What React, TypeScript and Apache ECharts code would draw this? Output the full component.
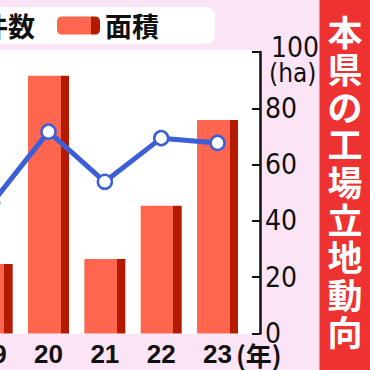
import React, { useEffect, useRef } from "react";
import * as echarts from "echarts";

const categories = ["19", "20", "21", "22", "23"];
const areaValues = [24.7, 91.6, 26.5, 45.4, 75.8];
const countValues = [46.4, 71.7, 53.9, 69.4, 67.7];
const yMin = 0;
const yMax = 100;
const yInterval = 20;
const titleText = "本県の工場立地動向";
const yUnit = "(ha)";
const xUnit = "(年)";

const OFF = 130; // hidden area to the left of the visible page
const W = 370 + OFF;
const H = 370;
const px = (x: number) => x + OFF;

const BG = "#fbe4f5";
const LIGHT = "#ff6650";
const DARK = "#b31a00";
const BLUE = "#3c5fd8";
const NARROW = "'Liberation Sans Narrow', 'DejaVu Sans Condensed', sans-serif";
const CJK = "'Noto Sans CJK JP', sans-serif";

export default function App() {
  const ref = useRef<HTMLDivElement>(null);
  useEffect(() => {
    if (!ref.current) return;
    const chart = echarts.init(ref.current, null, { renderer: "svg" });
    const barColor = new echarts.graphic.LinearGradient(0, 0, 1, 0, [
      { offset: 0, color: LIGHT },
      { offset: 0.8, color: LIGHT },
      { offset: 0.8, color: DARK },
      { offset: 1, color: DARK },
    ]);
    const gridLeft = px(-36);
    const gridRightPage = 245.7;
    const gridRight = W - px(gridRightPage);
    const titleChars = titleText.split("").map((ch, i) => ({
      type: "text",
      z: 6,
      x: px(345),
      y: 30 + i * 37.6,
      style: {
        text: ch,
        fill: "#ffffff",
        font: `bold 35px ${CJK}`,
        align: "center",
        verticalAlign: "middle",
      },
    }));
    chart.setOption({
      animation: false,
      backgroundColor: BG,
      graphic: [
        { type: "rect", z: -10, shape: { x: 0, y: 50, width: px(259), height: 284 }, style: { fill: "#ffffff" } },
        { type: "rect", z: -10, shape: { x: 0, y: 7, width: px(215), height: 37, r: 9 }, style: { fill: "#ffffff" } },
        { type: "rect", z: 5, shape: { x: px(319.5), y: 0, width: 51, height: H }, style: { fill: "#ee3232" } },
        ...titleChars,
        {
          type: "text",
          z: 6,
          x: px(269),
          y: 73,
          style: {
            text: yUnit,
            fill: "#111111",
            fontSize: 26,
            fontFamily: "DejaVu Sans Condensed",
            align: "left",
            verticalAlign: "middle",
          },
        },
        {
          type: "text",
          z: 6,
          x: px(236),
          y: 354,
          style: {
            text: xUnit,
            fill: "#111111",
            font: `bold 26px ${CJK}`,
            align: "left",
            verticalAlign: "middle",
          },
        },
      ],
      legend: [
        {
          data: ["面積"],
          left: px(57),
          top: 12,
          padding: 0,
          itemWidth: 43,
          itemHeight: 18,
          itemGap: 8,
          textStyle: { fontSize: 27, fontWeight: "bold", color: "#111", fontFamily: CJK },
        },
        {
          data: ["件数"],
          right: W - px(35),
          top: 12,
          padding: 0,
          itemWidth: 43,
          itemHeight: 18,
          textStyle: { fontSize: 27, fontWeight: "bold", color: "#111", fontFamily: CJK },
        },
      ],
      grid: { left: gridLeft, right: gridRight, top: 52, bottom: 36.5, containLabel: false },
      xAxis: {
        type: "category",
        data: categories,
        axisLine: { show: false },
        axisTick: { show: false },
        axisLabel: {
          margin: 7,
          color: "#111",
          fontSize: 26,
          fontWeight: "bold",
          fontFamily: "'Liberation Sans', Arial, sans-serif",
        },
      },
      yAxis: [
        {
          type: "value",
          position: "right",
          min: yMin,
          max: yMax,
          interval: yInterval,
          offset: 260 - gridRightPage,
          splitLine: { show: false },
          axisLine: { show: true, lineStyle: { color: "#111", width: 2.5 } },
          axisTick: { show: true, inside: true, length: 8, lineStyle: { color: "#111", width: 2 } },
          axisLabel: {
            margin: 5,
            color: "#111",
            formatter: (v: number) => (v === yMax ? `{hundred|${v}}\n{gap| }` : `{a|${v}}`),
            rich: {
              a: { fontSize: 28, lineHeight: 30, fontFamily: NARROW, color: "#111" },
              hundred: { fontSize: 28, lineHeight: 30, fontFamily: NARROW, color: "#111", padding: [0, 0, 0, 6] },
              gap: { fontSize: 8, lineHeight: 10 },
            },
          },
        },
        { type: "value", min: yMin, max: yMax, show: false },
      ],
      series: [
        {
          name: "面積",
          type: "bar",
          yAxisIndex: 0,
          data: areaValues,
          barWidth: 41,
          itemStyle: { color: barColor },
          z: 2,
        },
        {
          name: "件数",
          type: "line",
          yAxisIndex: 1,
          data: countValues,
          symbol: "circle",
          symbolSize: 14,
          lineStyle: { color: BLUE, width: 5 },
          itemStyle: { color: "#ffffff", borderColor: BLUE, borderWidth: 2.5 },
          z: 3,
        },
      ],
    });
    return () => chart.dispose();
  }, []);
  return (
    <div
      ref={ref}
      style={{ position: "fixed", left: -OFF, top: 0, width: W, height: H }}
    />
  );
}
